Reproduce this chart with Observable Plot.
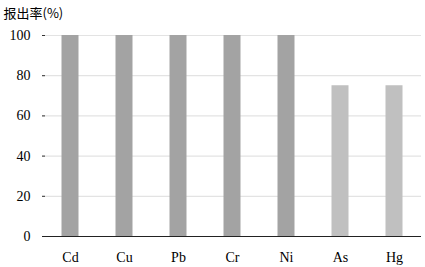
<!DOCTYPE html>
<html>
<head>
<meta charset="utf-8">
<script src="https://cdn.jsdelivr.net/npm/d3@7"></script>
<script src="https://cdn.jsdelivr.net/npm/@observablehq/plot@0.6"></script>
<style>
body { margin: 0; background: #fff; }
</style>
</head>
<body>
<div id="chart"></div>
<script>
const elements = ["Cd", "Cu", "Pb", "Cr", "Ni", "As", "Hg"];
const rates = [100, 100, 100, 100, 100, 75, 75];
const groups = ["dark", "dark", "dark", "dark", "dark", "light", "light"];
const yTicks = [0, 20, 40, 60, 80, 100];
const title = "报出率(%)";

const data = elements.map((e, i) => ({element: e, rate: rates[i], group: groups[i]}));

const serif = "'Liberation Serif', 'Times New Roman', serif";
const chart = Plot.plot({
  width: 425,
  height: 267,
  marginLeft: 42,
  marginRight: 4,
  marginTop: 35,
  marginBottom: 31,
  style: {fontFamily: serif, fontSize: "14px", color: "#000", background: "#fff"},
  x: {domain: elements, padding: 0, label: null},
  y: {domain: [0, 100], ticks: yTicks, label: null},
  color: {domain: ["dark", "light"], range: ["#a3a3a3", "#c0c0c0"]},
  marks: [
    Plot.gridY(yTicks.filter(d => d > 0), {stroke: "#e3e3e3", strokeOpacity: 1, strokeWidth: 1.2}),
    Plot.barY(data, {x: "element", y: "rate", fill: "group", insetLeft: 18.5, insetRight: 18.5}),
    Plot.axisY({ticks: yTicks, tickSize: -3, tickPadding: 15, fontSize: 14, fontFamily: serif, stroke: "#333"}),
    Plot.ruleX([0], {frameAnchor: "left", stroke: "#333", strokeWidth: 1.2}),
    Plot.ruleY([0], {stroke: "#222", strokeWidth: 1.2}),
    Plot.axisX({tickSize: 0, tickPadding: 16, fontSize: 14, fontFamily: serif}),
    Plot.text([title], {frameAnchor: "top-left", dx: -39, dy: -27, fontFamily: "'Noto Sans CJK SC', sans-serif", fontSize: 13, textAnchor: "start"})
  ]
});
document.getElementById("chart").appendChild(chart);
</script>
</body>
</html>
